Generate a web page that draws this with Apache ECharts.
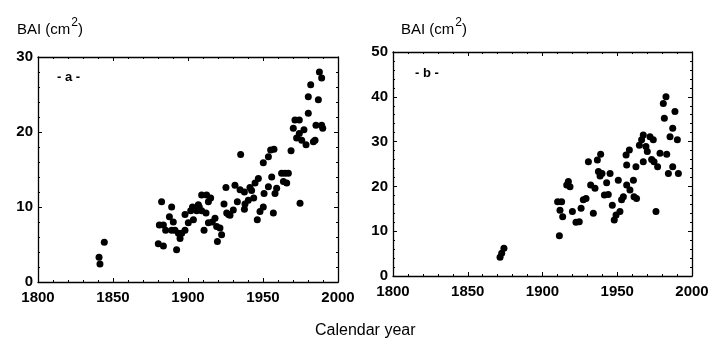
<!DOCTYPE html>
<html>
<head>
<meta charset="utf-8">
<style>
    html, body { margin: 0; padding: 0; background: #fff; }
    #main { width: 717px; height: 338px; }
</style>
<script src="https://cdn.jsdelivr.net/npm/echarts@6/dist/echarts.min.js"></script>
</head>
<body>
<div id="main"></div>
<script>
// 图 a 的数据 (年份, BAI)
var yearsA = [1840.7, 1841.3, 1844.2, 1882.4, 1880.9, 1883.6, 1880.2, 1883.6, 1885.1, 1889.1,
    1887.6, 1890.2, 1889.1, 1891.3, 1892.4, 1893.6, 1894.7, 1895.8, 1898, 1898,
    1900.2, 1903.6, 1901.8, 1904.7, 1906.9, 1905.8, 1909.1, 1912, 1913.6, 1915.1,
    1912.4, 1909.1, 1910.7, 1913.6, 1916.2, 1918, 1919.1, 1919.6, 1921.3, 1922.4,
    1924, 1925.3, 1925.8, 1928, 1930.2, 1931.3, 1932.9, 1935.1, 1934.7, 1937.6,
    1938, 1937.6, 1940.2, 1941.3, 1942.4, 1943.8, 1944.7, 1946.2, 1946.9, 1948,
    1950.2, 1950.7, 1950.2, 1953.6, 1955.1, 1957.3, 1955.8, 1953.6, 1958, 1959.1,
    1956.9, 1962.4, 1964.7, 1963.6, 1965.8, 1966.9, 1968.7, 1970.2, 1971.3, 1974.2,
    1972.4, 1974.2, 1974.7, 1975.8, 1977.3, 1978.7, 1980.2, 1980.2, 1981.8, 1983.6,
    1984.7, 1985.3, 1986.9, 1987.6, 1989.1, 1989.1, 1989.8, 1903, 1907.5, 1927];
var baiA = [3.3, 2.4, 5.3, 10.7, 7.6, 7.6, 5.1, 4.8, 6.9, 10.0,
    8.7, 8.0, 6.9, 6.9, 4.3, 6.5, 5.8, 6.5, 9.0, 6.9,
    7.9, 8.3, 9.5, 9.8, 10.3, 9.5, 9.5, 9.2, 10.7, 11.2,
    11.6, 11.6, 6.9, 7.9, 8.0, 8.5, 7.4, 5.4, 7.2, 6.3,
    10.4, 12.6, 9.2, 8.9, 9.6, 12.9, 10.7, 17.0, 12.3, 12.0,
    10.4, 9.7, 10.9, 12.6, 12.2, 11.2, 13.2, 8.3, 13.8, 9.4,
    10.0, 11.8, 15.9, 16.7, 17.6, 17.7, 14.0, 12.7, 11.8, 12.5,
    9.2, 14.5, 14.5, 13.4, 13.2, 14.5, 17.5, 20.5, 21.6, 21.6,
    19.2, 19.8, 10.5, 18.9, 20.3, 18.3, 24.7, 22.5, 26.3, 18.7,
    18.9, 20.9, 24.3, 28.0, 27.2, 20.9, 20.5, 10.0, 10.0, 9.0];

// 图 b 的数据
var yearsB = [1871.6, 1872.7, 1874.2, 1911.3, 1910.1, 1912.8, 1911.7, 1913.5, 1917.3, 1916.2,
    1918.4, 1920, 1922.4, 1924.6, 1925.8, 1927.3, 1929.1, 1930.7, 1932.2, 1934,
    1935.1, 1936.7, 1938.9, 1937.4, 1939.8, 1938.5, 1941.4, 1942.9, 1944, 1945.2,
    1946.7, 1948, 1949.2, 1950.7, 1951.8, 1952.9, 1954.1, 1955.9, 1958.1, 1956.3,
    1956.3, 1958.5, 1960.8, 1961.2, 1962.9, 1962.5, 1964.8, 1966.3, 1967.4, 1969.2,
    1967.4, 1970.1, 1971.9, 1974.1, 1973, 1974.6, 1975.9, 1977, 1978.6, 1980.8,
    1982.6, 1981.5, 1983.1, 1984.2, 1985.3, 1987.1, 1988.6, 1987.1, 1990.2, 1990.9];
var baiB = [4.2, 5.1, 6.2, 9.0, 16.6, 16.6, 14.7, 13.2, 21.1, 20.3,
    19.9, 14.4, 12.0, 12.1, 15.1, 17.0, 17.3, 25.5, 20.3, 14.0,
    19.6, 25.9, 27.2, 23.3, 22.9, 22.3, 18.1, 20.8, 18.2, 22.9,
    15.8, 12.5, 13.6, 21.4, 14.4, 17.0, 17.7, 27.0, 28.1, 24.8,
    20.3, 19.2, 21.4, 17.7, 17.3, 24.4, 29.2, 30.4, 31.5, 28.9,
    25.5, 27.8, 31.1, 30.4, 26.0, 25.5, 14.4, 24.4, 27.4, 38.5,
    40.0, 35.2, 27.2, 22.9, 31.1, 33.0, 36.7, 24.4, 30.4, 22.9];

var font = 'Liberation Sans, Arial, sans-serif';

function pairs(xs, ys) {
    return xs.map(function (x, i) { return [x, ys[i]]; });
}

// 坐标轴 (刻度朝内, 四边都有)
function xAxis(grid, pos, labels) {
    return {
        type: 'value', gridIndex: grid, position: pos,
        min: 1800, max: 2000, interval: 50,
        axisLine: { show: true, onZero: false, lineStyle: { color: '#000', width: 1.3 } },
        axisTick: { show: true, inside: true, length: 4, lineStyle: { color: '#000' } },
        minorTick: { show: true, splitNumber: 5, length: 2, lineStyle: { color: '#000' } },
        splitLine: { show: false },
        axisLabel: {
            show: labels, color: '#000', fontFamily: font, fontSize: 15, fontWeight: 'bold', margin: 8,
            formatter: function (v) { return String(v); }
        }
    };
}
function yAxis(grid, pos, max, interval, labels) {
    return {
        type: 'value', gridIndex: grid, position: pos,
        min: 0, max: max, interval: interval,
        axisLine: { show: true, onZero: false, lineStyle: { color: '#000', width: 1.3 } },
        axisTick: { show: true, inside: true, length: 4, lineStyle: { color: '#000' } },
        minorTick: { show: true, splitNumber: 5, length: 2, lineStyle: { color: '#000' } },
        splitLine: { show: false },
        axisLabel: { show: labels, color: '#000', fontFamily: font, fontSize: 15, fontWeight: 'bold', margin: 5 }
    };
}

function titleText(left, top) {
    return {
        text: '{a|BAI (cm}{s|2}{a|)}', left: left, top: top,
        textStyle: {
            fontWeight: 'normal',
            rich: {
                a: { fontFamily: font, fontSize: 15, fontWeight: 'normal', color: '#000', verticalAlign: 'bottom' },
                s: { fontFamily: font, fontSize: 12, fontWeight: 'normal', color: '#000', verticalAlign: 'top', padding: [0, 0, 8, 1] }
            }
        }
    };
}

var myChart = echarts.init(document.getElementById('main'));
var option = {
    animation: false,
    backgroundColor: '#fff',
    title: [
        titleText(12, 12),
        titleText(396, 12),
        { text: 'Calendar year', left: 310, top: 318, textStyle: { fontFamily: font, fontSize: 16, fontWeight: 'normal', color: '#000' } },
        { text: '- a -', left: 52, top: 66, textStyle: { fontFamily: font, fontSize: 13, fontWeight: 'bold', color: '#000' } },
        { text: '- b -', left: 410, top: 62, textStyle: { fontFamily: font, fontSize: 13, fontWeight: 'bold', color: '#000' } }
    ],
    grid: [
        { left: 38, top: 57, width: 300, height: 225 },
        { left: 393, top: 52, width: 299, height: 224 }
    ],
    xAxis: [
        xAxis(0, 'bottom', true), xAxis(0, 'top', false),
        xAxis(1, 'bottom', true), xAxis(1, 'top', false)
    ],
    yAxis: [
        yAxis(0, 'left', 30, 10, true), yAxis(0, 'right', 30, 10, false),
        yAxis(1, 'left', 50, 10, true), yAxis(1, 'right', 50, 10, false)
    ],
    series: [
        {
            type: 'scatter', xAxisIndex: 0, yAxisIndex: 0,
            symbolSize: 7, itemStyle: { color: '#000', opacity: 1 },
            data: pairs(yearsA, baiA)
        },
        {
            type: 'scatter', xAxisIndex: 2, yAxisIndex: 2,
            symbolSize: 7, itemStyle: { color: '#000', opacity: 1 },
            data: pairs(yearsB, baiB)
        }
    ]
};
myChart.setOption(option);
</script>
</body>
</html>
